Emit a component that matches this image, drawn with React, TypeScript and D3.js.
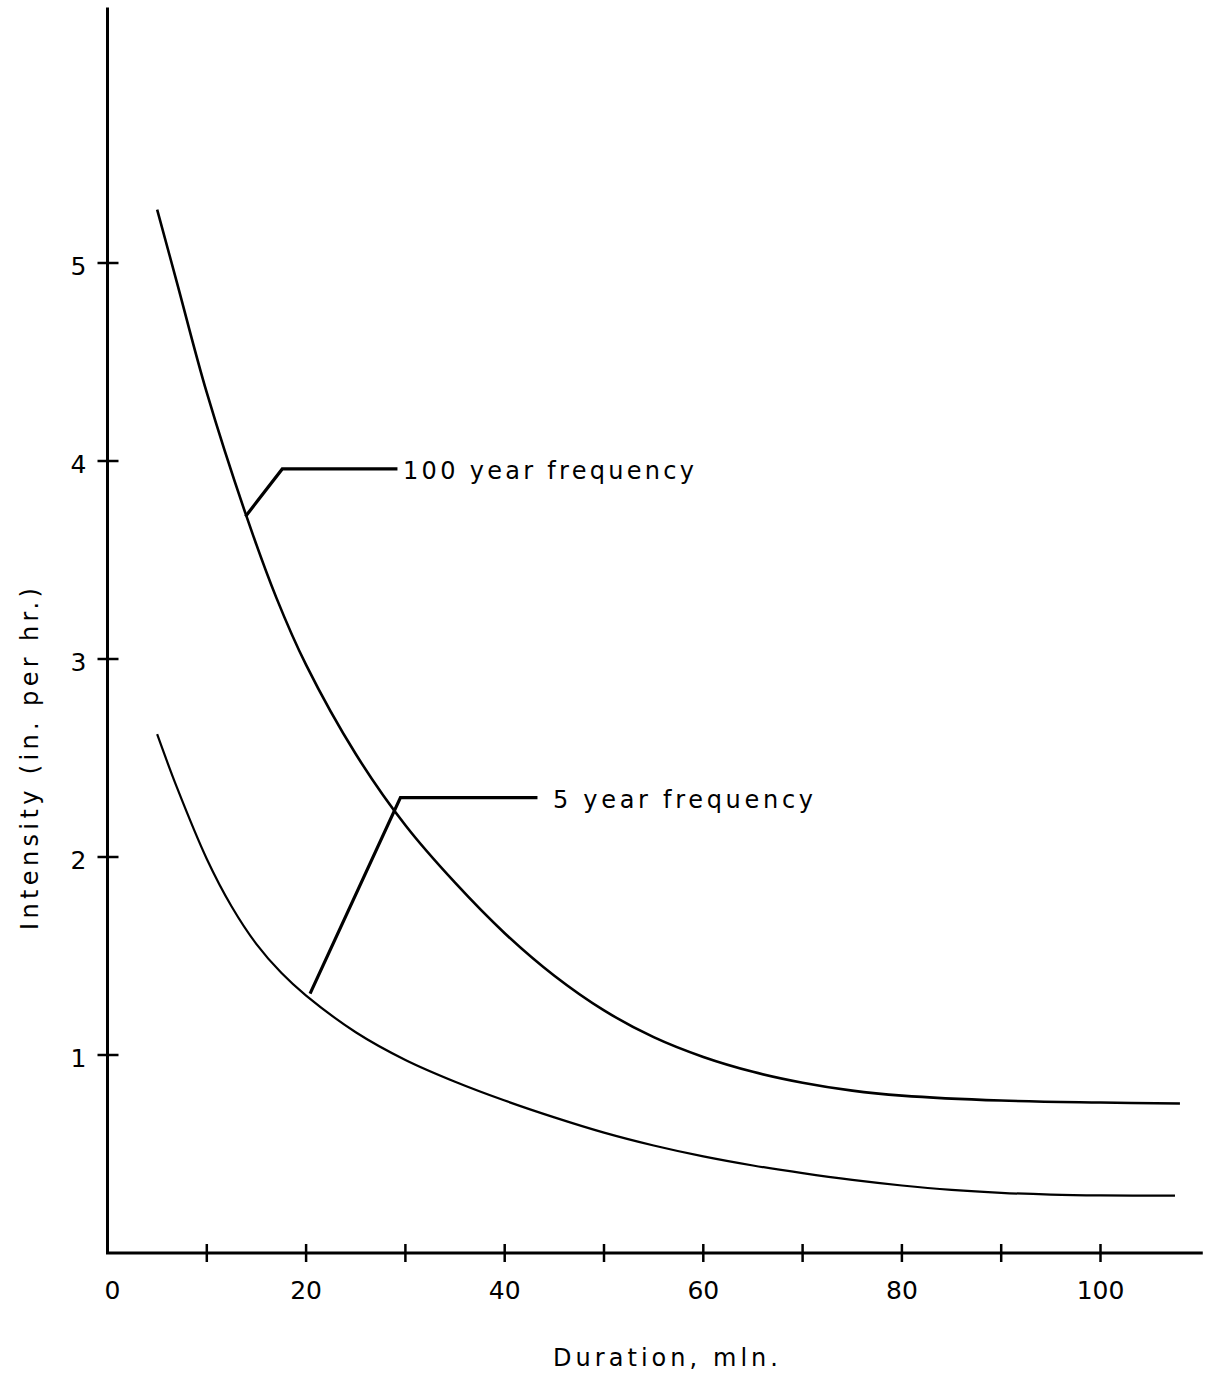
import React, { useRef, useEffect } from "react";
import * as d3 from "d3";

// durations (min) and read-off intensities (in. per hr.)
const dur100 = [5, 7, 10, 14, 17, 20, 25, 30, 35, 40, 45, 50, 55, 60, 65, 70, 75, 80, 90, 100, 108];
const int100 = [5.27, 4.9, 4.345, 3.72, 3.31, 2.97, 2.52, 2.16, 1.87, 1.615, 1.4, 1.225, 1.09, 0.99, 0.915, 0.86, 0.82, 0.795, 0.77, 0.76, 0.755];

const dur5 = [5, 7, 10, 12.5, 15, 17.5, 20, 25, 30, 35, 40, 45, 50, 55, 60, 65, 70, 75, 80, 85, 90, 95, 100, 107.5];
const int5 = [2.62, 2.35, 1.99, 1.75, 1.56, 1.415, 1.3, 1.115, 0.975, 0.865, 0.77, 0.685, 0.608, 0.543, 0.488, 0.442, 0.403, 0.369, 0.341, 0.319, 0.304, 0.295, 0.291, 0.29];

const xTicks = [10, 20, 30, 40, 50, 60, 70, 80, 90, 100];
const xTickLabels = [0, 20, 40, 60, 80, 100];
const yTicks = [1, 2, 3, 4, 5];

// leader lines: [duration, intensity] elbows
const leader100 = [[13.9, 3.72], [17.6, 3.96], [29.2, 3.96]];
const leader5 = [[20.4, 1.31], [29.5, 2.3], [43.3, 2.3]];

const W = 1210;
const H = 1375;
const FONT = "'DejaVu Sans', sans-serif";

export default function App() {
  const ref = useRef();

  useEffect(() => {
    const svg = d3.select(ref.current);
    svg.selectAll("*").remove();

    const x = d3.scaleLinear().domain([0, 100]).range([107.5, 1100.5]);
    const y = d3.scaleLinear().domain([0, 5]).range([1253, 263]);

    const g = svg.append("g");

    // axes
    g.append("line")
      .attr("x1", x(0)).attr("x2", x(0))
      .attr("y1", y(0) + 1).attr("y2", y(6.29))
      .attr("stroke", "#000").attr("stroke-width", 3);
    g.append("line")
      .attr("x1", x(0) - 1.5).attr("x2", x(110.3))
      .attr("y1", y(0)).attr("y2", y(0))
      .attr("stroke", "#000").attr("stroke-width", 3);

    g.selectAll(".xt")
      .data(xTicks)
      .enter()
      .append("line")
      .attr("x1", (d) => x(d)).attr("x2", (d) => x(d))
      .attr("y1", y(0) - 9).attr("y2", y(0) + 9)
      .attr("stroke", "#000").attr("stroke-width", 2.5);

    g.selectAll(".yt")
      .data(yTicks)
      .enter()
      .append("line")
      .attr("x1", x(0) - 10).attr("x2", x(0) + 11)
      .attr("y1", (d) => y(d)).attr("y2", (d) => y(d))
      .attr("stroke", "#000").attr("stroke-width", 2.5);

    g.selectAll(".xl")
      .data(xTickLabels)
      .enter()
      .append("text")
      .attr("x", (d) => x(d) + (d === 0 ? 5 : 0))
      .attr("y", y(0) + 46)
      .attr("text-anchor", "middle")
      .attr("font-family", FONT)
      .attr("font-size", 25)
      .text((d) => d);

    g.selectAll(".yl")
      .data(yTicks)
      .enter()
      .append("text")
      .attr("x", x(0) - 21)
      .attr("y", (d) => y(d) + 12)
      .attr("text-anchor", "end")
      .attr("font-family", FONT)
      .attr("font-size", 25)
      .text((d) => d);

    // curves
    const line = d3
      .line()
      .x((d) => x(d[0]))
      .y((d) => y(d[1]))
      .curve(d3.curveCatmullRom.alpha(0.5));

    g.append("path")
      .attr("d", line(dur100.map((d, i) => [d, int100[i]])))
      .attr("fill", "none")
      .attr("stroke", "#000")
      .attr("stroke-width", 2.6);

    g.append("path")
      .attr("d", line(dur5.map((d, i) => [d, int5[i]])))
      .attr("fill", "none")
      .attr("stroke", "#000")
      .attr("stroke-width", 2.2);

    // leaders
    const straight = d3.line().x((d) => x(d[0])).y((d) => y(d[1]));
    [leader100, leader5].forEach((l) => {
      g.append("path")
        .attr("d", straight(l))
        .attr("fill", "none")
        .attr("stroke", "#000")
        .attr("stroke-width", 3.2);
    });

    g.append("text")
      .attr("x", 403).attr("y", 479)
      .attr("font-family", FONT).attr("font-size", 24)
      .attr("textLength", 291).attr("lengthAdjust", "spacing")
      .text("100 year frequency");

    g.append("text")
      .attr("x", 553).attr("y", 808)
      .attr("font-family", FONT).attr("font-size", 24)
      .attr("textLength", 260).attr("lengthAdjust", "spacing")
      .text("5 year frequency");

    // axis titles
    g.append("text")
      .attr("x", 553).attr("y", 1366)
      .attr("font-family", FONT).attr("font-size", 24)
      .attr("textLength", 225).attr("lengthAdjust", "spacing")
      .text("Duration, mln.");

    g.append("text")
      .attr("transform", "translate(38,930) rotate(-90)")
      .attr("font-family", FONT).attr("font-size", 24)
      .attr("textLength", 342).attr("lengthAdjust", "spacing")
      .text("Intensity (in. per hr.)");
  }, []);

  return (
    <svg
      ref={ref}
      width={W}
      height={H}
      style={{ position: "absolute", left: 0, top: 0, background: "#fff" }}
    ></svg>
  );
}
